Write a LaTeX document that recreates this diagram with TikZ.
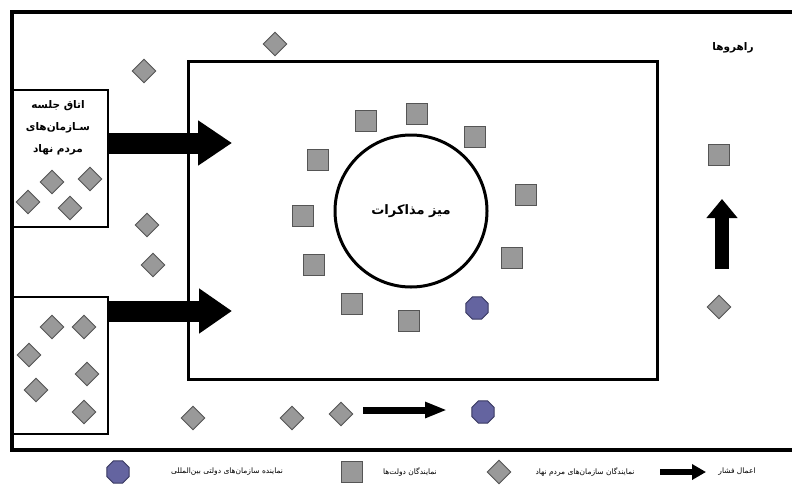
\documentclass[tikz,border=0pt]{standalone}
\usepackage{fontspec}
\newfontfamily\arabicfont[Script=Arabic]{DejaVu Sans}
\TeXXeTstate=1
\usetikzlibrary{shapes.geometric,arrows.meta}
\definecolor{sqfill}{RGB}{153,153,153}
\definecolor{sqline}{RGB}{85,85,85}
\definecolor{octfill}{RGB}{100,100,160}
\definecolor{octline}{RGB}{55,55,95}
\begin{document}
\begin{tikzpicture}[x=1pt,y=-1pt,
  sq/.style={draw=sqline,fill=sqfill,line width=0.9pt,minimum size=21pt,inner sep=0pt},
  dia/.style={diamond,draw=sqline,fill=sqfill,line width=0.9pt,minimum size=24pt,inner sep=0pt},
  oct/.style={regular polygon,regular polygon sides=8,draw=octline,fill=octfill,line width=0.9pt,minimum size=24pt,inner sep=0pt},
  room/.style={draw,line width=1.5pt,inner sep=0pt},
  lbl/.style={font=\arabicfont\bfseries\fontsize{10.5}{22}\selectfont,align=center,inner sep=0pt},
  leg/.style={font=\arabicfont\fontsize{7.5}{9}\selectfont,inner sep=0pt},
  push/.style={line width=#1}]
\useasboundingbox (0,0) rectangle (792,485);
% outer frame
\draw[line width=4pt,line join=miter] (794,12) -- (12,12) -- (12,450) -- (794,450);
% rooms
\node[room,minimum width=96pt,minimum height=137pt] (room1) at (60,158.5) {};
\node[room,minimum width=96pt,minimum height=137pt] (room2) at (60,365.5) {};
\node[draw,line width=3pt,minimum width=469pt,minimum height=318pt,inner sep=0pt] (hall) at (422.5,220) {};
\node[circle,draw,line width=3pt,minimum size=152pt,inner sep=0pt] (table) at (411,211) {};
\node[lbl,font=\arabicfont\bfseries\fontsize{13}{15}\selectfont] (tabletxt) at (411,211) {\beginR میز مذاکرات\endR};
\node[lbl] (room1txt) at (58,128) {\beginR اتاق جلسه\endR\\\beginR سـازمان‌های\endR\\\beginR مردم نهاد\endR};
\node[lbl] (corr) at (733,48) {\beginR راهروها\endR};
% pressure arrows
\coordinate (a1s) at (room1.east |- 0,143);
\coordinate (a1e) at (232,143);
\coordinate (a2s) at (room2.east |- 0,311);
\coordinate (a2e) at (232,311);
\draw[push=21pt,-{Triangle[length=34pt,width=43pt]}] (a1s) -- (a1e);
\draw[push=21pt,-{Triangle[length=33pt,width=43pt]}] (a2s) -- (a2e);
\coordinate (a3s) at (363,410);
\coordinate (a3e) at (447,410);
\draw[push=7pt,-{Triangle[length=22pt,width=15pt]}] (a3s) -- (a3e);
\coordinate (a4s) at (722,269);
\coordinate (a4e) at (722,199);
\draw[push=14pt,-{Triangle[length=19pt,width=30pt]}] (a4s) -- (a4e);
% government representatives
\foreach \n/\x/\y in {s1/366/121,s2/417/114,s3/475/137,s4/526/195,s5/512/258,s6/409/321,s7/352/304,s8/314/265,s9/303/216,s10/318/160,s11/719/155}
  \node[sq] (\n) at (\x,\y) {};
% NGO representatives
\foreach \n/\x/\y in {d1/275/44,d2/144/71,d3/52/182,d4/90/179,d5/28/202,d6/70/208,d7/147/225,d8/153/265,d9/52/327,d10/84/327,d11/29/355,d12/87/374,d13/36/390,d14/84/412,d15/193/418,d16/292/418,d17/341/414,d18/719/307}
  \node[dia] (\n) at (\x,\y) {};
% international representatives
\node[oct] (o1) at (477,308) {};
\node[oct] (o2) at (483,412) {};
% legend
\node[oct] (lo) at (118,472) {};
\node[leg] (lot) at (227,472) {\beginR نماینده سازمان‌های دولتی بین‌المللی\endR};
\node[sq] (ls) at (352,472) {};
\node[leg] (lst) at (410,472) {\beginR نمایندگان دولت‌ها\endR};
\node[dia] (ld) at (499,472) {};
\node[leg] (ldt) at (585,472) {\beginR نمایندگان سازمان‌های مردم نهاد\endR};
\coordinate (las) at (660,472);
\coordinate (lae) at (706,472);
\draw[push=6pt,-{Triangle[length=14pt,width=15pt]}] (las) -- (lae);
\node[leg] (lat) at (737,472) {\beginR اعمال فشار\endR};
\end{tikzpicture}
\end{document}
